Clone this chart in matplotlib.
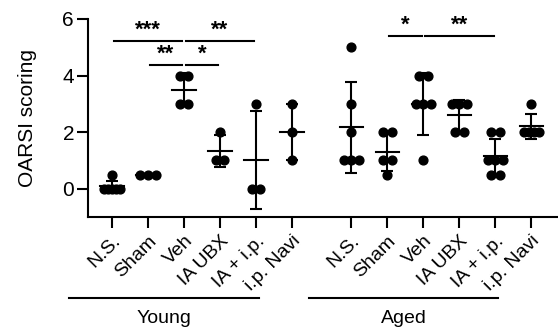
import numpy as np
import matplotlib
matplotlib.use('Agg')
import matplotlib.pyplot as plt

plt.rcParams['font.family'] = ['Liberation Sans', 'DejaVu Sans']

# scores
labels = ['N.S.', 'Sham', 'Veh', 'IA UBX', 'IA + i.p.', 'i.p. Navi']
young = [
    [0, 0, 0, 0, 0, 0.5],
    [0.5, 0.5, 0.5],
    [4, 4, 3, 3],
    [2, 1, 1],
    [3, 0, 0],
    [3, 2, 1],
]
aged = [
    [5, 3, 2, 1, 1, 1],
    [2, 2, 1, 1, 0.5],
    [4, 4, 3, 3, 3, 1],
    [3, 3, 3, 2, 2],
    [2, 2, 1, 1, 1, 0.5, 0.5],
    [3, 2, 2, 2, 2],
]
# (group, index a, index b, height, stars)
brackets = [
    ('young', 0, 2, 5.22, '***'),
    ('young', 2, 4, 5.22, '**'),
    ('young', 1, 2, 4.37, '**'),
    ('young', 2, 3, 4.37, '*'),
    ('aged', 1, 2, 5.40, '*'),
    ('aged', 2, 4, 5.40, '**'),
]

xy = np.arange(6)
xa = np.arange(6) + 6.65
pos = {'young': xy, 'aged': xa}


def swarm(vals, step=0.23, maxw=0.42):
    vals = np.asarray(vals, float)
    off = np.zeros(len(vals))
    for v in np.unique(vals):
        idx = np.where(vals == v)[0]
        n = len(idx)
        if n > 1:
            s = min(step, maxw / (n - 1))
            off[idx] = (np.arange(n) - (n - 1) / 2) * s
    return off


fig = plt.figure(figsize=(5.58, 3.31), dpi=100)
ax = fig.add_axes([88 / 558, 1 - 217 / 331, 470 / 558, 198 / 331])

lw = 1.5
for xs, groups in ((xy, young), (xa, aged)):
    for x, vals in zip(xs, groups):
        v = np.asarray(vals, float)
        ax.scatter(x + swarm(v), v, s=40, color='black', zorder=3, clip_on=False)
        m = v.mean()
        sd = v.std(ddof=1)
        ax.errorbar(x, m, yerr=sd, color='black', lw=lw, capsize=4.5,
                    capthick=lw, zorder=4, clip_on=False)
        ax.plot([x - 0.32, x + 0.32], [m, m], color='black', lw=lw, zorder=4)

for g, a, b, h, star in brackets:
    x1, x2 = pos[g][a] + 0.05, pos[g][b] - 0.05
    ax.plot([x1, x2], [h, h], color='black', lw=lw, clip_on=False)
    ax.text((x1 + x2) / 2, h + 0.02, star, ha='center', va='bottom',
            fontsize=16, fontweight='bold')

ax.set_xlim(-0.667, 12.39)
ax.set_ylim(-1, 6)
ax.set_yticks([0, 2, 4, 6])
ax.set_xticks(np.concatenate([xy, xa]))
ax.set_xticklabels(labels + labels, rotation=45, ha='right', va='top',
                   rotation_mode='anchor', fontsize=14)
ax.tick_params(axis='y', labelsize=15, length=8, width=lw, pad=2)
ax.tick_params(axis='x', length=8, width=lw, pad=3)
ax.spines[['top', 'right']].set_visible(False)
for s in ('left', 'bottom'):
    ax.spines[s].set_linewidth(lw)
ax.set_ylabel('OARSI scoring', fontsize=15, labelpad=18)

# group bars under the tick labels
for xs, name in ((xy, 'Young'), (xa, 'Aged')):
    x1, x2 = xs[0] - 1.19, xs[-1] - 0.92
    ax.plot([x1, x2], [-3.86, -3.86], color='black', lw=lw, clip_on=False)
    ax.text((x1 + x2) / 2, -4.6, name, ha='center', va='center', fontsize=14)

plt.savefig('out.png', dpi=100)
